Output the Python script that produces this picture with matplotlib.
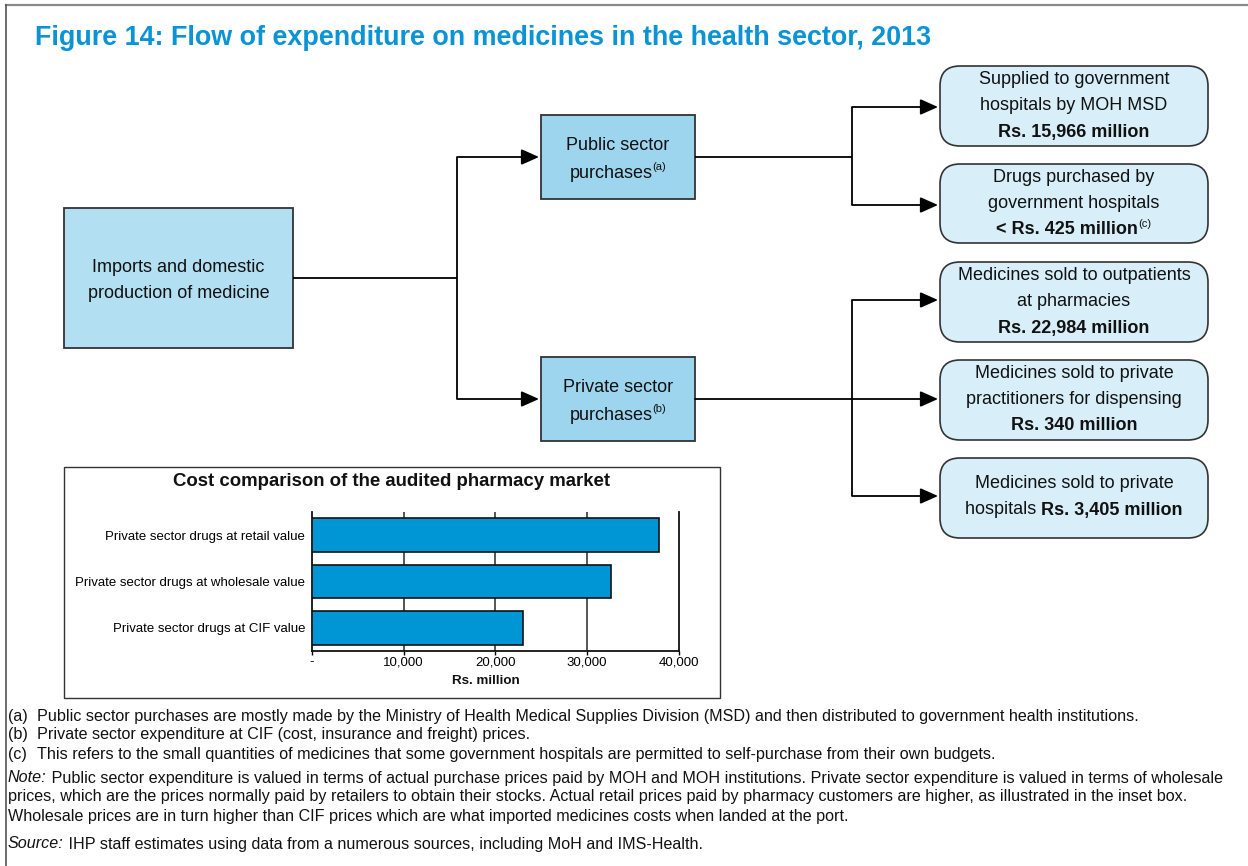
#!/usr/bin/env python3
"""
Figure 14: flow of expenditure on medicines in the health sector, 2013.
Flow diagram drawn on a pixel-coordinate overlay + inset horizontal bar chart.
"""

import matplotlib

matplotlib.use("Agg")
import matplotlib.pyplot as plt
from matplotlib.patches import Rectangle, FancyBboxPatch
from matplotlib.ticker import FixedLocator, FixedFormatter

plt.rcParams["font.family"] = ["Liberation Sans", "DejaVu Sans"]

# ── data ─────────────────────────────────────────────────────────
TITLE = "Figure 14: Flow of expenditure on medicines in the health sector, 2013"

source_node = ["Imports and domestic", "production of medicine"]
public_node = "Public sector purchases"
private_node = "Private sector purchases"

public_outcomes = [
    (["Supplied to government", "hospitals by MOH MSD"], "Rs. 15,966 million", ""),
    (["Drugs purchased by", "government hospitals"], "< Rs. 425 million", "(c)"),
]
private_outcomes = [
    (["Medicines sold to outpatients", "at pharmacies"], "Rs. 22,984 million", ""),
    (["Medicines sold to private", "practitioners for dispensing"], "Rs. 340 million", ""),
    (["Medicines sold to private"], "Rs. 3,405 million", ""),
]

inset_title = "Cost comparison of the audited pharmacy market"
bar_labels = [
    "Private sector drugs at CIF value",
    "Private sector drugs at wholesale value",
    "Private sector drugs at retail value",
]
bar_values = [23000, 32600, 37900]
x_ticks = [0, 10000, 20000, 30000, 40000]
x_ticklabels = ["-", "10,000", "20,000", "30,000", "40,000"]

footnotes = [
    ("(a)", "Public sector purchases are mostly made by the Ministry of Health Medical Supplies "
            "Division (MSD) and then distributed to government health institutions."),
    ("(b)", "Private sector expenditure at CIF (cost, insurance and freight) prices."),
    ("(c)", "This refers to the small quantities of medicines that some government hospitals "
            "are permitted to self-purchase from their own budgets."),
]
note_lines = [
    "Public sector expenditure is valued in terms of actual purchase prices paid by MOH and MOH "
    "institutions. Private sector expenditure is valued in terms of wholesale",
    "prices, which are the prices normally paid by retailers to obtain their stocks. Actual retail "
    "prices paid by pharmacy customers are higher, as illustrated in the inset box.",
    "Wholesale prices are in turn higher than CIF prices which are what imported medicines costs "
    "when landed at the port.",
]
source_text = "IHP staff estimates using data from a numerous sources, including MoH and IMS-Health."

# ── colours ──────────────────────────────────────────────────────
BLUE_TITLE = "#0A93D5"
NODE_DARK = "#9DD5EE"
NODE_SRC = "#B3DFF3"
NODE_LIGHT = "#D8EFFA"
BAR_BLUE = "#0096D6"

W, H = 1248, 866
fig = plt.figure(figsize=(W / 100, H / 100), dpi=100)
ax = fig.add_axes([0, 0, 1, 1])
ax.set_xlim(0, W)
ax.set_ylim(H, 0)
ax.axis("off")
renderer = fig.canvas.get_renderer()


def text_width(t):
    return t.get_window_extent(renderer).width


def mixed_line(x, y, parts, ha="center", size=13):
    """parts: list of (string, weight, style, superscript?) drawn side by side."""
    arts = []
    for s, weight, style, sup in parts:
        fs = size * 0.62 if sup else size
        t = ax.text(0, y - (6 if sup else 0), s, fontsize=fs, fontweight=weight,
                    fontstyle=style, va="center", ha="left", color="#111")
        arts.append(t)
    widths = [text_width(t) for t in arts]
    x0 = x - sum(widths) / 2 if ha == "center" else x
    for t, w in zip(arts, widths):
        t.set_x(x0)
        x0 += w
    return arts


def rect_node(x0, y0, x1, y1, fc):
    ax.add_patch(Rectangle((x0, y0), x1 - x0, y1 - y0, facecolor=fc,
                           edgecolor="#333333", linewidth=1.3))


def round_node(x0, y0, x1, y1):
    ax.add_patch(FancyBboxPatch((x0 + 20, y0 + 20), x1 - x0 - 40, y1 - y0 - 40,
                                boxstyle="round,pad=20", facecolor=NODE_LIGHT,
                                edgecolor="#333333", linewidth=1.2))


def arrow(x0, y0, x1, y1):
    ax.annotate("", xy=(x1, y1), xytext=(x0, y0),
                arrowprops=dict(arrowstyle="-|>,head_length=0.9,head_width=0.4",
                                mutation_scale=12, color="black", lw=1.3,
                                shrinkA=0, shrinkB=0))


def line(xs, ys):
    ax.plot(xs, ys, color="black", lw=1.3, solid_capstyle="butt")


# outer frame (top + left only)
ax.plot([6, W], [5, 5], color="#8a8a8a", lw=1.6)
ax.plot([6, 6], [5, H], color="#555555", lw=1.2)

ax.text(35, 38, TITLE, fontsize=19.4, fontweight="bold", color=BLUE_TITLE,
        va="center", ha="left")

# ── flow diagram ─────────────────────────────────────────────────
rect_node(64, 208, 293, 348, NODE_SRC)
for i, s in enumerate(source_node):
    ax.text(178.5, 267 + 26 * i, s, fontsize=13, ha="center", va="center", color="#111")

for (label, ytop) in [(public_node, 115), (private_node, 357)]:
    rect_node(541, ytop, 695, ytop + 84, NODE_DARK)
    first, second = label.split(" purchases")[0], "purchases"
    ax.text(618, ytop + 31, first, fontsize=13, ha="center", va="center", color="#111")
    tag = "(a)" if label == public_node else "(b)"
    mixed_line(618, ytop + 58, [(second, "normal", "normal", False),
                                (tag, "normal", "normal", True)])

# connectors from source
line([293, 457], [278, 278])
line([457, 457], [157, 399])
arrow(457, 157, 539, 157)
arrow(457, 399, 539, 399)

# public branch
line([695, 852], [157, 157])
line([852, 852], [107, 205])
arrow(852, 107, 938, 107)
arrow(852, 205, 938, 205)

# private branch
line([852, 852], [300, 496])
arrow(695, 399, 938, 399)
arrow(852, 300, 938, 300)
arrow(852, 496, 938, 496)

box_tops = [66, 164, 262, 360, 458]
box_bottoms = [146, 243, 342, 440, 538]
outcomes = public_outcomes + private_outcomes
for (lines_, amount, sup), yt, yb in zip(outcomes, box_tops, box_bottoms):
    round_node(940, yt, 1208, yb)
    xc = 1074
    if len(lines_) == 2:
        ys = [yt + 13, yt + 40, yt + 66]
        for s, y in zip(lines_, ys[:2]):
            ax.text(xc, y, s, fontsize=13, ha="center", va="center", color="#111")
        parts = [(amount, "bold", "normal", False)]
        if sup:
            parts.append((sup, "normal", "normal", True))
        mixed_line(xc, ys[2], parts)
    else:
        ax.text(xc, yt + 25, lines_[0], fontsize=13, ha="center", va="center", color="#111")
        mixed_line(xc, yt + 52, [("hospitals ", "normal", "normal", False),
                                 (amount, "bold", "normal", False)])

# ── inset bar chart ──────────────────────────────────────────────
ax.add_patch(Rectangle((64, 467), 720 - 64, 698 - 467, facecolor="white",
                       edgecolor="#333333", linewidth=1.0))
ax.text(392, 482, inset_title, fontsize=13.4, fontweight="bold", ha="center",
        va="center", color="#111")

ax_l, ax_r, ax_t, ax_b = 312, 678.5, 512, 651
bax = fig.add_axes([ax_l / W, 1 - ax_b / H, (ax_r - ax_l) / W, (ax_b - ax_t) / H])
bax.barh(range(len(bar_values)), bar_values, height=0.72, color=BAR_BLUE,
         edgecolor="#111111", linewidth=1.2, zorder=3)
bax.set_xlim(0, 40000)
bax.set_ylim(-0.5, len(bar_values) - 0.5)
bax.set_yticks(range(len(bar_labels)))
bax.set_yticklabels(bar_labels, fontsize=9.5)
bax.xaxis.set_major_locator(FixedLocator(x_ticks))
bax.xaxis.set_major_formatter(FixedFormatter(x_ticklabels))
bax.tick_params(axis="x", labelsize=9.5, length=3, width=1, pad=1)
bax.tick_params(axis="y", length=0, pad=5)
for v in x_ticks[1:-1]:
    bax.axvline(v, color="#555555", lw=1.4, zorder=1)
bax.spines["top"].set_visible(False)
for s in ("left", "bottom", "right"):
    bax.spines[s].set_linewidth(1.3)
    bax.spines[s].set_color("#111111")
bax.patch.set_alpha(0)
ax.text(486, 681, "Rs. million", fontsize=9.6, fontweight="bold", ha="center",
        va="center", color="#111")

# ── footnotes ────────────────────────────────────────────────────
FN = 11.6
for i, (tag, s) in enumerate(footnotes):
    y = 716 + 19 * i
    ax.text(8, y, tag, fontsize=FN, ha="left", va="center", color="#111")
    ax.text(37, y, s, fontsize=FN, ha="left", va="center", color="#111")

mixed_line(8, 778, [("Note:", "normal", "italic", False),
                    (" " + note_lines[0], "normal", "normal", False)], ha="left", size=FN)
for i, s in enumerate(note_lines[1:]):
    ax.text(8, 797 + 19 * i, s, fontsize=FN, ha="left", va="center", color="#111")
mixed_line(8, 844, [("Source:", "normal", "italic", False),
                    (" " + source_text, "normal", "normal", False)], ha="left", size=FN)

fig.savefig("out.png", dpi=100)
